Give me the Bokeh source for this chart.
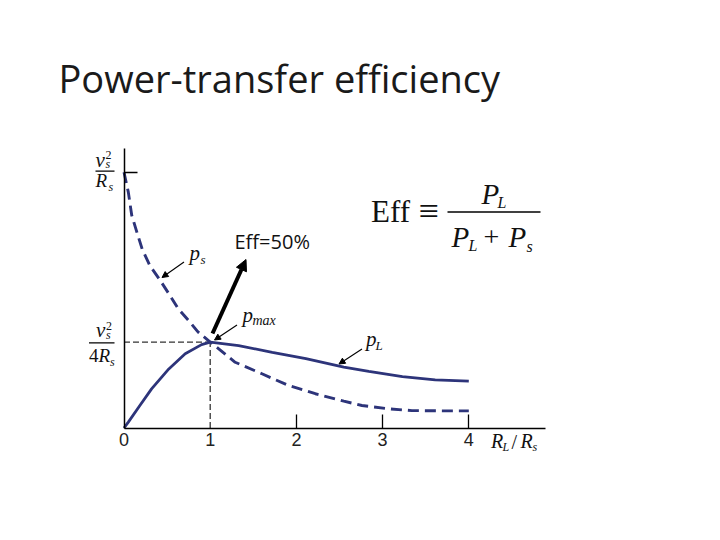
import numpy as np
from bokeh.plotting import figure
from bokeh.models import Range1d, LinearAxis, FixedTicker, Label, Arrow, NormalHead
from bokeh.embed import file_html
from bokeh.resources import INLINE

# Data
# x = RL/Rs, y in units of vs^2/Rs
ratio_ps = [0, 0.05, 0.09, 0.15, 0.21, 0.30, 0.42, 0.52, 0.63, 0.75, 0.86, 1.0,
            1.29, 1.60, 1.91, 2.22, 2.55, 2.76, 3.07, 3.34, 3.70, 4.0]
p_source = [1.0, 0.922, 0.831, 0.765, 0.70, 0.635, 0.577, 0.525, 0.466, 0.42, 0.375, 0.336,
            0.257, 0.212, 0.166, 0.134, 0.105, 0.088, 0.075, 0.068, 0.067, 0.067]

ratio_pl = [0, 0.05, 0.17, 0.32, 0.52, 0.71, 0.90, 1.0,
            1.33, 1.72, 2.11, 2.55, 2.84, 3.23, 3.61, 4.0]
p_load = [0, 0.023, 0.081, 0.153, 0.231, 0.290, 0.326, 0.336,
          0.322, 0.296, 0.271, 0.238, 0.221, 0.201, 0.188, 0.183]

x_ticks = [0, 1, 2, 3, 4]
x_tick_labels = ['0', '1', '2', '3', '4']

NAVY = '#2d347a'

# pixel -> data calibration (canvas pixels)
W, H = 704, 524
X0, SX = 123.5, 86.2
Y0, SY = 427.5, 255.8

def px(xp):
    return (xp - X0) / SX

def py(yp):
    return (Y0 - yp) / SY

p = figure(
    width=W, height=H,
    x_range=Range1d(px(0), px(W)),
    y_range=Range1d(py(H), py(0)),
    x_axis_location=None, y_axis_location=None,
    tools='', toolbar_location=None,
    output_backend='svg',
    min_border=0,
)
p.outline_line_color = None
p.background_fill_color = 'white'
p.border_fill_color = 'white'
p.grid.visible = False

## axes sitting on the data origin
xaxis = LinearAxis(
    fixed_location=0, bounds=(0, px(545)),
    ticker=FixedTicker(ticks=x_ticks, minor_ticks=[t for t in x_ticks if t >= 2]),
    major_label_overrides={t: l for t, l in zip(x_ticks, x_tick_labels)},
    major_tick_in=0, major_tick_out=0,
    minor_tick_in=14, minor_tick_out=0,
    minor_tick_line_color='black', minor_tick_line_width=1.3,
    axis_line_color='black', axis_line_width=1.5,
    major_label_text_font='Liberation Sans',
    major_label_text_font_size='18px',
    major_label_text_color='#222222',
    major_label_standoff=5,
)
p.add_layout(xaxis, 'below')

yaxis = LinearAxis(
    fixed_location=0, bounds=(0, py(148)),
    ticker=FixedTicker(ticks=[p_source[0]], minor_ticks=[]),
    major_tick_in=13, major_tick_out=0,
    major_tick_line_color='black', major_tick_line_width=1.3,
    axis_line_color='black', axis_line_width=1.5,
    major_label_text_color=None,
)
p.add_layout(yaxis, 'left')

## dashed guides to the maximum power point
i_max = int(np.argmax(p_load))
x_max, y_max = ratio_pl[i_max], p_load[i_max]
p.line([0, x_max], [y_max, y_max], line_color='#333333', line_width=1.3, line_dash='6 3')
p.line([x_max, x_max], [0, y_max], line_color='#333333', line_width=1.3, line_dash='6 3')

## curves
p.line(ratio_pl, p_load, line_color=NAVY, line_width=2.8)
p.line(ratio_ps, p_source, line_color=NAVY, line_width=2.9, line_dash='11 6')

## text helpers (y is the wanted baseline; labels land a bit low, so lift them)
def txt(x, y, s, size, font='Liberation Serif', style='italic', color='#111111'):
    k = 0.46 if font == 'Open Sans' else 0.35
    p.add_layout(Label(x=px(x), y=py(y - k * size), text=s, text_font=font,
                       text_font_size='%dpx' % size, text_font_style=style,
                       text_color=color, text_baseline='alphabetic', text_align='left'))

def bar(x1, x2, y, w=1.2):
    p.add_layout(Arrow(start=None, end=None, x_start=px(x1), y_start=py(y),
                       x_end=px(x2), y_end=py(y), line_color='black', line_width=w))

def pointer(x1, y1, x2, y2, w=1.1, size=6):
    p.add_layout(Arrow(end=NormalHead(size=size, fill_color='black', line_color='black'),
                       x_start=px(x1), y_start=py(y1), x_end=px(x2), y_end=py(y2),
                       line_color='black', line_width=w))

# slide title
txt(58, 95, 'Power-transfer efficiency', 38, font='Open Sans', style='normal', color='#1a1a1a')

# y labels
txt(95, 166.5, 'v', 21)
txt(105, 158.5, '2', 12, style='normal')
txt(105, 168, 's', 12)
bar(95, 114, 170.7)
txt(95, 187, 'R', 19)
txt(108, 190.5, 's', 12)

txt(95.5, 337, 'v', 21)
txt(105.5, 329.5, '2', 12, style='normal')
txt(105.5, 338.5, 's', 12)
bar(88.5, 114, 342.3)
txt(88.5, 362, '4', 19, style='normal')
txt(98, 362, 'R', 19)
txt(109.5, 365.5, 's', 12)

# x label
txt(490.5, 447, 'R', 20)
txt(502, 451, 'L', 12)
txt(511, 448, '/', 20, style='normal')
txt(520, 447, 'R', 20)
txt(532, 450.5, 's', 12)

# curve labels with pointers
txt(189, 260, 'p', 21)
txt(200, 263.5, 's', 13)
pointer(183.5, 261.5, 161.5, 277)

txt(242, 322, 'p', 21)
txt(252, 324.5, 'max', 14)
pointer(236.5, 324.5, 214, 339.5)

txt(365.5, 346, 'p', 21)
txt(375, 349.5, 'L', 13)
pointer(361.5, 348.5, 338.5, 363.5)

# efficiency note
txt(234, 250, 'Eff=50%', 20, font='Open Sans', style='normal')
pointer(212, 333, 245.5, 259, w=4, size=11)

# formula
txt(370.5, 221.5, 'Eff', 31, style='normal')
txt(418, 223, '\u2261', 36, style='normal')
bar(447, 540, 211.5, w=1.3)
txt(481, 203.5, 'P', 29)
txt(497, 207.5, 'L', 16)
txt(451, 246.5, 'P', 29)
txt(468, 250.5, 'L', 16)
txt(483, 246, '+', 28, style='normal')
txt(508, 246.5, 'P', 29)
txt(526, 252, 's', 16)

open('out.html', 'w').write(file_html(p, INLINE))
